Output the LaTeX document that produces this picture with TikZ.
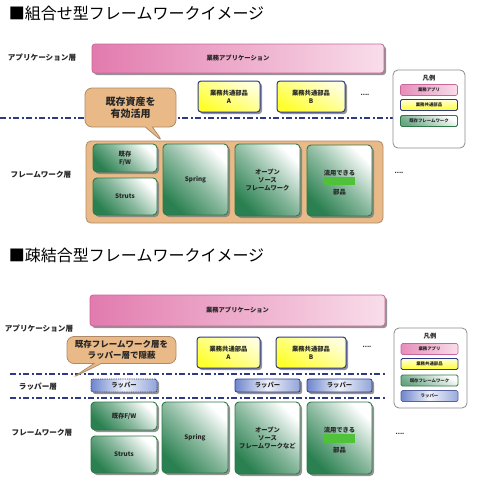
\documentclass[tikz,border=0pt]{standalone}
\usepackage{fontspec}
\setmainfont{Noto Sans CJK JP}
\usetikzlibrary{shapes.callouts,shadows}
\definecolor{navy}{HTML}{2E3A87}
\definecolor{pinkA}{HTML}{E27BAE}
\definecolor{pinkB}{HTML}{F9DDEA}
\definecolor{pinkD}{HTML}{C9679A}
\definecolor{yelA}{HTML}{FFFF2E}
\definecolor{yelB}{HTML}{FFFFDC}
\definecolor{greenA}{HTML}{2A8050}
\definecolor{greenD}{HTML}{2E7A45}
\definecolor{greenBar}{HTML}{4FC23A}
\definecolor{tanF}{HTML}{E9BA88}
\definecolor{tanD}{HTML}{B08A66}
\definecolor{blueA}{HTML}{6E86CC}
\definecolor{blueB}{HTML}{EEF1FA}
\newcommand\fTitle{\fontsize{16}{18}\selectfont}
\newcommand\fLay{\bfseries\fontsize{7.6}{9}\selectfont}
\newcommand\fLbl{\bfseries\fontsize{6.3}{8.2}\selectfont}
\newcommand\fCall{\bfseries\fontsize{10}{12.5}\selectfont}
\newcommand\fCallB{\bfseries\fontsize{8.5}{10.5}\selectfont}
\newcommand\fLeg{\bfseries\fontsize{4.4}{5}\selectfont}
\begin{document}
\begin{tikzpicture}[x=1pt,y=-1pt,
  every node/.style={inner sep=0pt,outer sep=0pt,text=black!85},
  sh/.style={drop shadow={shadow xshift=2pt,shadow yshift=-2pt,fill=black!50,opacity=0.85}},
  pinkbar/.style={sh,draw=pinkD,line width=0.8pt,rounded corners=3pt,left color=pinkA,right color=pinkB},
  ybox/.style={sh,draw=navy,line width=1pt,rounded corners=3pt,top color=yelA,bottom color=yelB,shading angle=150,align=center,font=\fLbl},
  gbox/.style={sh,draw=greenD,line width=0.9pt,rounded corners=4pt,top color=greenA,bottom color=white,middle color=greenA!55!white,shading angle=135,align=center,font=\fLbl},
  wbox/.style={sh,draw=navy,line width=0.8pt,rounded corners=2pt,left color=blueA,right color=blueA!75!white,middle color=blueB,font=\fLbl},
  frame/.style={draw=tanD,line width=0.8pt,fill=tanF,rounded corners=5pt},
  callbox/.style={rectangle callout,rounded corners=7pt,fill=tanF,draw=tanD,line width=0.8pt,align=center},
  legbox/.style={draw=black!45,line width=0.8pt,rounded corners=5pt,fill=white},
  legp/.style={draw=pinkD,line width=0.6pt,rounded corners=1.5pt,left color=pinkA!85,right color=pinkB,font=\fLeg,minimum width=57,minimum height=11},
  legy/.style={draw=navy,line width=0.9pt,rounded corners=1.5pt,top color=yelA,bottom color=yelB,shading angle=180,font=\fLeg,minimum width=57,minimum height=11},
  legg/.style={draw=greenD,line width=0.9pt,rounded corners=1.5pt,top color=greenA!70!white,bottom color=white,shading angle=150,font=\fLeg,minimum width=57,minimum height=11},
  legb/.style={draw=navy!80,line width=0.7pt,rounded corners=1.5pt,left color=blueA,right color=blueA!70!white,middle color=blueB,font=\fLeg,minimum width=57,minimum height=11},
  divider/.style={draw=navy,line width=1.3pt,dash pattern=on 6pt off 2.5pt on 2pt off 2.5pt},
  lay/.style={font=\fLay},
  dots/.style={font=\fLbl},
  bar/.style={fill=greenBar,minimum width=31,minimum height=8.5}
]
\useasboundingbox (0,0) rectangle (477,490);

% ================= TOP =================
\node[font=\fTitle,anchor=west,text=black] (t1) at (9,13) {■組合せ型フレームワークイメージ};
\node[lay] (lapp1) at (42,58) {アプリケーション層};
\node[lay] (lfw1) at (41,175) {フレームワーク層};

\coordinate (d1a) at (0,118);
\coordinate (d1b) at (393,118);
\draw[divider] (d1a) -- (d1b);

\node[pinkbar,minimum width=292,minimum height=29,font=\fLbl] (app1) at (238,58.5) {業務アプリケーション};
\node[ybox,minimum width=62,minimum height=31] (ya1) at (229,96.5) {業務共通部品\\A};
\node[ybox,minimum width=68,minimum height=31] (yb1) at (311,96.5) {業務共通部品\\B};
\node[dots] (dt1) at (365,95) {....};

\node[frame,minimum width=297,minimum height=82] (fr1) at (234.5,182) {};
\node[gbox,minimum width=64,minimum height=28] (fa1) at (125,158) {既存\\F/W};
\node[gbox,minimum width=64,minimum height=37] (fs1) at (125,196.5) {Struts};
\node[gbox,minimum width=65,minimum height=71] (sp1) at (195.5,179.5) {Spring};
\node[gbox,minimum width=65,minimum height=72] (os1) at (267.5,180) {オープン\\ソース\\フレームワーク};
\node[gbox,minimum width=65,minimum height=71] (ru1) at (339.5,180.5) {};
\node[font=\fLbl] (ru1a) at (339.5,173) {流用できる};
\node[bar] (ru1b) at (339,181) {};
\node[font=\fLbl] (ru1c) at (339.5,192) {部品};
\node[dots] (dt2) at (399,173) {....};

\node[callbox,font=\fCall,minimum width=91,minimum height=39,
  callout absolute pointer={(163,142)}] (c1) at (130.5,107.5) {既存資産を\\有効活用};

\node[legbox,minimum width=72,minimum height=78] (lg1) at (429,109) {};
\node[font=\fLbl] (lg1t) at (429,78) {凡例};
\node[legp] (lg1p) at (429,90) {業務アプリ};
\node[legy] (lg1y) at (429,105) {業務共通部品};
\node[legg] (lg1g) at (429,121) {既存フレームワーク};

% ================= BOTTOM =================
\node[font=\fTitle,anchor=west,text=black] (t2) at (9,255) {■疎結合型フレームワークイメージ};
\node[lay] (lapp2) at (39,329) {アプリケーション層};
\node[lay] (lwr2) at (38,387) {ラッパー層};
\node[lay] (lfw2) at (42,433) {フレームワーク層};

\coordinate (d2a) at (10,374);
\coordinate (d2b) at (385,374);
\coordinate (d3a) at (10,398);
\coordinate (d3b) at (385,398);
\draw[divider] (d2a) -- (d2b);
\draw[divider] (d3a) -- (d3b);

\node[pinkbar,minimum width=295,minimum height=31,font=\fLbl] (app2) at (237.5,310.5) {業務アプリケーション};
\node[ybox,minimum width=63,minimum height=31] (ya2) at (228.5,352.5) {業務共通部品\\A};
\node[ybox,minimum width=70,minimum height=31] (yb2) at (311,352.5) {業務共通部品\\B};
\node[dots] (dt3) at (367,347) {....};

\node[wbox,minimum width=66,minimum height=13,dash pattern=on 1pt off 0.8pt] (w1) at (124,385.5) {ラッパー};
\node[wbox,minimum width=65,minimum height=13] (w2) at (267.5,385.5) {ラッパー};
\node[wbox,minimum width=65,minimum height=13] (w3) at (339.5,385.5) {ラッパー};

\node[gbox,minimum width=66,minimum height=28] (fa2) at (124,416) {既存F/W};
\node[gbox,minimum width=66,minimum height=37] (fs2) at (124,454.5) {Struts};
\node[gbox,minimum width=66,minimum height=71] (sp2) at (195,437.5) {Spring};
\node[gbox,minimum width=65,minimum height=72] (os2) at (267.5,438) {オープン\\ソース\\フレームワークなど};
\node[gbox,minimum width=65,minimum height=72] (ru2) at (339.5,438) {};
\node[font=\fLbl] (ru2a) at (339.5,430) {流用できる};
\node[bar] (ru2b) at (339.5,438.5) {};
\node[font=\fLbl] (ru2c) at (339.5,450) {部品};
\node[dots] (dt4) at (400,434) {....};

\node[callbox,font=\fCallB,minimum width=109,minimum height=27,
  callout absolute pointer={(72,378)}] (c2) at (121.5,350) {既存フレームワーク層を\\ラッパー層で隠蔽};

\node[legbox,minimum width=73,minimum height=80] (lg2) at (430.5,368) {};
\node[font=\fLbl] (lg2t) at (430,336) {凡例};
\node[legp] (lg2p) at (429.5,349) {業務アプリ};
\node[legy] (lg2y) at (429.5,364) {業務共通部品};
\node[legg] (lg2g) at (429.5,380.5) {既存フレームワーク};
\node[legb] (lg2b) at (429.5,396) {ラッパー};
\end{tikzpicture}
\end{document}
